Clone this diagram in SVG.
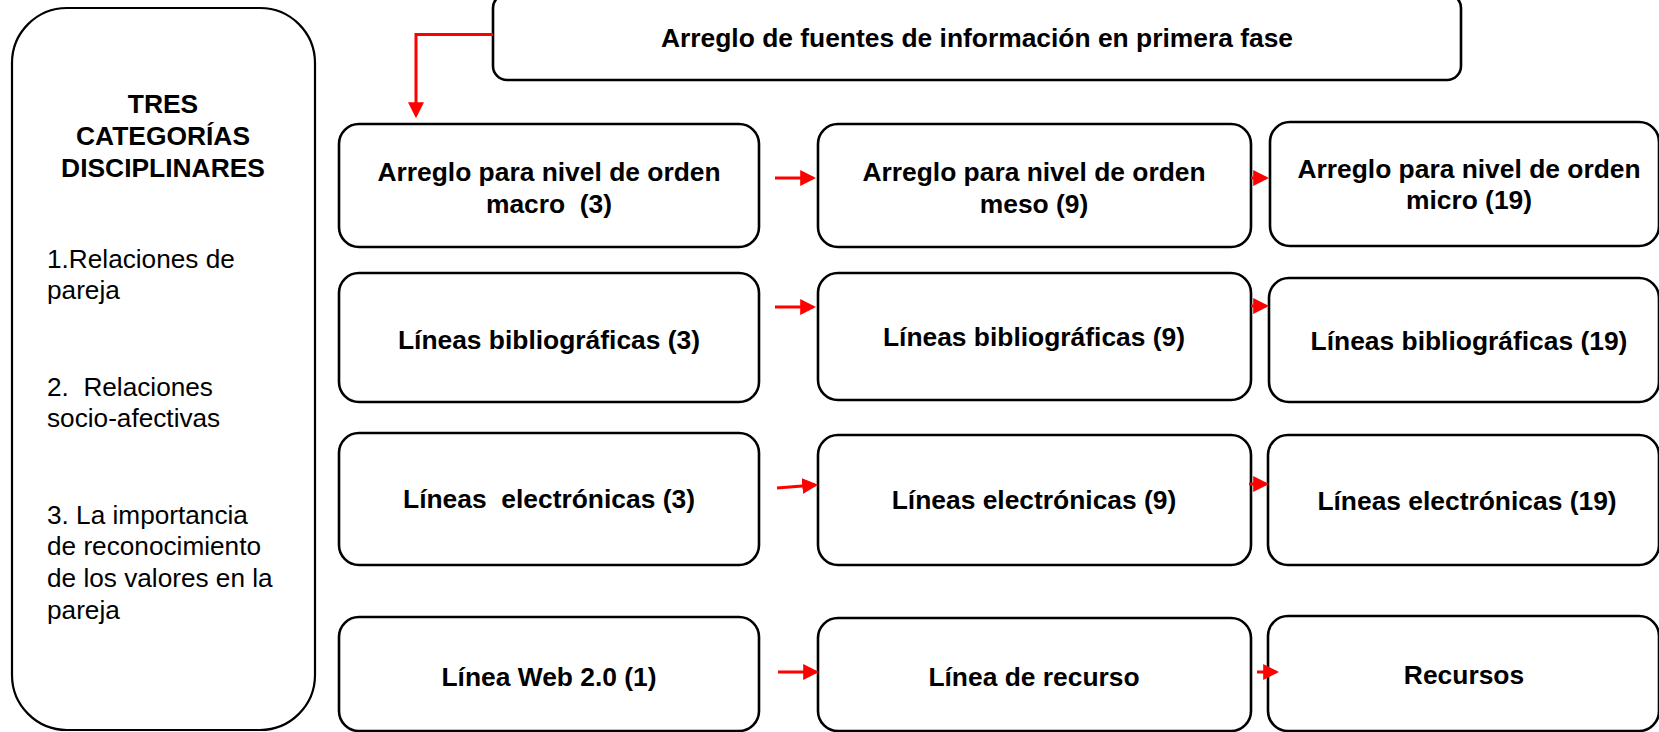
<svg xmlns="http://www.w3.org/2000/svg" width="1659" height="732" viewBox="0 0 1659 732">
<defs>
<style>
.box{fill:#fff;stroke:#000;stroke-width:2.6}
.t{font-family:"Liberation Sans",Arial,sans-serif;font-size:26.4px;font-weight:bold;fill:#000;text-anchor:middle}
.r{font-family:"Liberation Sans",Arial,sans-serif;font-size:26.2px;fill:#000}
.c{fill:none;stroke:#ff0000;stroke-width:3}
</style>
<marker id="ah" markerUnits="userSpaceOnUse" markerWidth="16" markerHeight="16" viewBox="0 0 15 15" refX="12" refY="7.5" orient="auto">
<path d="M0,0 L15,7.5 L0,15 z" fill="#ff0000"/>
</marker>
</defs>
<rect width="1659" height="732" fill="#fff"/>

<g id="categorias">
<rect class="box" x="12" y="8" width="303" height="722" rx="55" ry="55" style="stroke-width:2.2"/>
<text class="t" x="163" y="113">TRES</text>
<text class="t" x="163" y="145">CATEGORÍAS</text>
<text class="t" x="163" y="176.7">DISCIPLINARES</text>
<text class="r" x="47" y="267.5">1.Relaciones de</text>
<text class="r" x="47" y="299">pareja</text>
<text class="r" x="47" y="395.5" xml:space="preserve">2.  Relaciones</text>
<text class="r" x="47" y="427">socio-afectivas</text>
<text class="r" x="47" y="523.5">3. La importancia</text>
<text class="r" x="47" y="555.2">de reconocimiento</text>
<text class="r" x="47" y="587">de los valores en la</text>
<text class="r" x="47" y="618.5">pareja</text>
</g>

<g id="fuentes">
<rect class="box" x="493" y="-6" width="968" height="86" rx="14" ry="14"/>
<text class="t" x="977" y="47">Arreglo de fuentes de información en primera fase</text>
</g>

<g id="macro">
<rect class="box" x="339" y="124" width="420" height="123" rx="20" ry="20"/>
<text class="t" x="549" y="181" xml:space="preserve">Arreglo para nivel de orden</text>
<text class="t" x="549" y="212.5" xml:space="preserve">macro  (3)</text>
</g>
<g id="meso">
<rect class="box" x="818" y="124" width="433" height="123" rx="20" ry="20"/>
<text class="t" x="1034" y="181">Arreglo para nivel de orden</text>
<text class="t" x="1034" y="212.5">meso (9)</text>
</g>
<g id="micro">
<rect class="box" x="1270" y="122" width="389" height="124" rx="20" ry="20"/>
<text class="t" x="1469" y="177.5">Arreglo para nivel de orden</text>
<text class="t" x="1469" y="209">micro (19)</text>
</g>

<g id="biblio3">
<rect class="box" x="339" y="273" width="420" height="129" rx="20" ry="20"/>
<text class="t" x="549" y="349">Líneas bibliográficas (3)</text>
</g>
<g id="biblio9">
<rect class="box" x="818" y="273" width="433" height="127" rx="20" ry="20"/>
<text class="t" x="1034" y="346">Líneas bibliográficas (9)</text>
</g>
<g id="biblio19">
<rect class="box" x="1269" y="278" width="390" height="124" rx="20" ry="20"/>
<text class="t" x="1469" y="350">Líneas bibliográficas (19)</text>
</g>

<g id="electro3">
<rect class="box" x="339" y="433" width="420" height="132" rx="20" ry="20"/>
<text class="t" x="549" y="508" xml:space="preserve">Líneas  electrónicas (3)</text>
</g>
<g id="electro9">
<rect class="box" x="818" y="435" width="433" height="130" rx="20" ry="20"/>
<text class="t" x="1034" y="509">Líneas electrónicas (9)</text>
</g>
<g id="electro19">
<rect class="box" x="1268" y="435" width="391" height="130" rx="20" ry="20"/>
<text class="t" x="1467" y="510">Líneas electrónicas (19)</text>
</g>

<g id="web">
<rect class="box" x="339" y="617" width="420" height="114" rx="20" ry="20"/>
<text class="t" x="549" y="686">Línea Web 2.0 (1)</text>
</g>
<g id="linea-recurso">
<rect class="box" x="818" y="618" width="433" height="113" rx="20" ry="20"/>
<text class="t" x="1034" y="686">Línea de recurso</text>
</g>
<g id="recursos">
<rect class="box" x="1268" y="616" width="391" height="115" rx="20" ry="20"/>
<text class="t" x="1464" y="684">Recursos</text>
</g>

<g id="connectors">
<polyline class="c" points="493,34.5 416,34.5 416,115" marker-end="url(#ah)"/>
<line class="c" x1="775" y1="178" x2="813" y2="178" marker-end="url(#ah)"/>
<line class="c" x1="1251" y1="178" x2="1266" y2="178" marker-end="url(#ah)"/>
<line class="c" x1="775" y1="307" x2="813" y2="307" marker-end="url(#ah)"/>
<line class="c" x1="1251" y1="306" x2="1266" y2="306" marker-end="url(#ah)"/>
<line class="c" x1="777" y1="488" x2="815" y2="485" marker-end="url(#ah)"/>
<line class="c" x1="1249" y1="484" x2="1266" y2="484" marker-end="url(#ah)"/>
<line class="c" x1="778" y1="672" x2="816" y2="672" marker-end="url(#ah)"/>
<line class="c" x1="1257" y1="672" x2="1276" y2="672" marker-end="url(#ah)"/>
</g>
</svg>
